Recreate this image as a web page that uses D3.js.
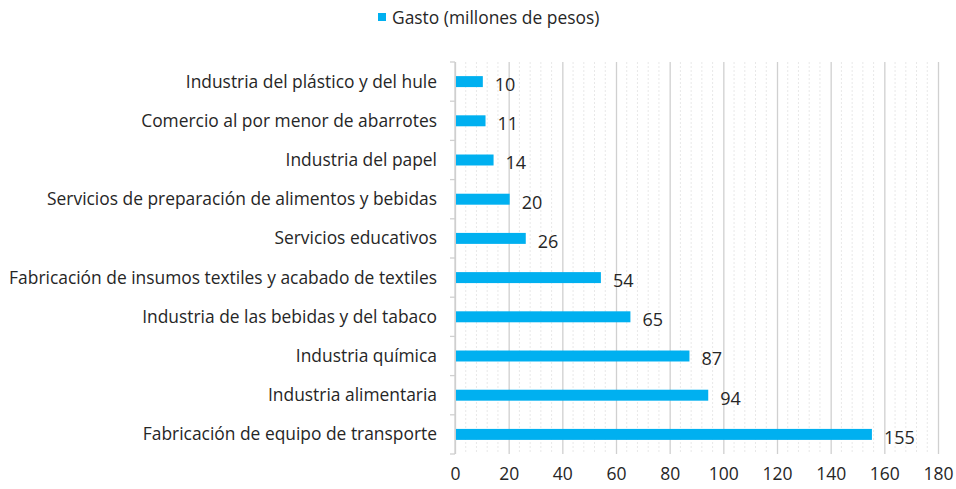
<!DOCTYPE html>
<html>
<head>
<meta charset="utf-8">
<script src="https://cdn.jsdelivr.net/npm/d3@7"></script>
<style>
  body { margin: 0; background: #fff; }
  svg text { font-family: "Open Sans", "Noto Sans", sans-serif; fill: #262626; }
</style>
</head>
<body>
<svg></svg>
<script>
// categories, top to bottom as drawn
let categories = [
  "Industria del plástico y del hule",
  "Comercio al por menor de abarrotes",
  "Industria del papel",
  "Servicios de preparación de alimentos y bebidas",
  "Servicios educativos",
  "Fabricación de insumos textiles y acabado de textiles",
  "Industria de las bebidas y del tabaco",
  "Industria química",
  "Industria alimentaria",
  "Fabricación de equipo de transporte"
];
let gasto = [10, 11, 14, 20, 26, 54, 65, 87, 94, 155];
let xTicks = [0, 20, 40, 60, 80, 100, 120, 140, 160, 180];
let seriesName = "Gasto (millones de pesos)";

let w = 956;
let h = 489;
let padL = 455;
let padR = 938;
let padT = 62;
let padB = 454;
let barColor = '#00B0F0';

let svg = d3.select('svg').attr('width', w).attr('height', h);

let xSc = d3.scaleLinear().domain([0, 180]).range([padL, padR]);
let ySc = d3.scaleBand().domain(categories).range([padT, padB]).paddingInner(0.72).paddingOuter(0.36);

// minor dashed gridlines (every 4)
svg.append('g')
   .selectAll('line')
   .data(d3.range(0, 181, 4).filter(v => v % 20 !== 0))
   .enter()
   .append('line')
   .attr('x1', d => xSc(d)).attr('x2', d => xSc(d))
   .attr('y1', padT).attr('y2', padB)
   .attr('stroke', '#e8e8e8')
   .attr('stroke-dasharray', '2,2')
   .attr('stroke-width', 1);

// major gridlines + axis labels
let xAxis = d3.axisBottom(xSc).tickValues(xTicks).tickSize(-(padB - padT)).tickPadding(14);
let gx = svg.append('g')
   .attr('transform', 'translate(0,' + padB + ')')
   .call(xAxis);
gx.select('.domain').remove();
gx.selectAll('line').attr('stroke', '#d0d0d0').attr('stroke-width', 1.3);
gx.selectAll('text').style('font-size', '17.5px').attr('fill', '#262626');

// y axis line with ticks between categories
let step = ySc.step();
let bounds = d3.range(categories.length + 1).map(i => padT + i * step);
svg.append('line')
   .attr('x1', padL).attr('x2', padL)
   .attr('y1', padT).attr('y2', padB)
   .attr('stroke', '#d0d0d0').attr('stroke-width', 1.3);
svg.append('g').selectAll('line')
   .data(bounds)
   .enter()
   .append('line')
   .attr('x1', padL - 5).attr('x2', padL)
   .attr('y1', d => d).attr('y2', d => d)
   .attr('stroke', '#d0d0d0').attr('stroke-width', 1.3);

// category labels
svg.append('g').selectAll('text')
   .data(categories)
   .enter()
   .append('text')
   .attr('x', padL - 18)
   .attr('y', d => ySc(d) + ySc.bandwidth() / 2)
   .attr('dy', '0.35em')
   .attr('text-anchor', 'end')
   .style('font-size', '17.4px')
   .text(d => d);

// bars
svg.append('g').selectAll('rect')
   .data(gasto)
   .enter()
   .append('rect')
   .attr('x', xSc(0) + 1)
   .attr('y', (d, i) => ySc(categories[i]))
   .attr('width', d => xSc(d) - xSc(0))
   .attr('height', ySc.bandwidth())
   .attr('fill', barColor);

// value labels
svg.append('g').selectAll('text')
   .data(gasto)
   .enter()
   .append('text')
   .attr('x', d => xSc(d) + 13)
   .attr('y', (d, i) => ySc(categories[i]) + ySc.bandwidth() / 2 + 3)
   .attr('dy', '0.35em')
   .style('font-size', '18px')
   .text(d => d);

// legend
let lg = svg.append('g');
lg.append('rect').attr('x', 378).attr('y', 13).attr('width', 8).attr('height', 8).attr('fill', barColor);
lg.append('text').attr('x', 392).attr('y', 18).attr('dy', '0.35em').style('font-size', '17.4px').text(seriesName);
</script>
</body>
</html>
